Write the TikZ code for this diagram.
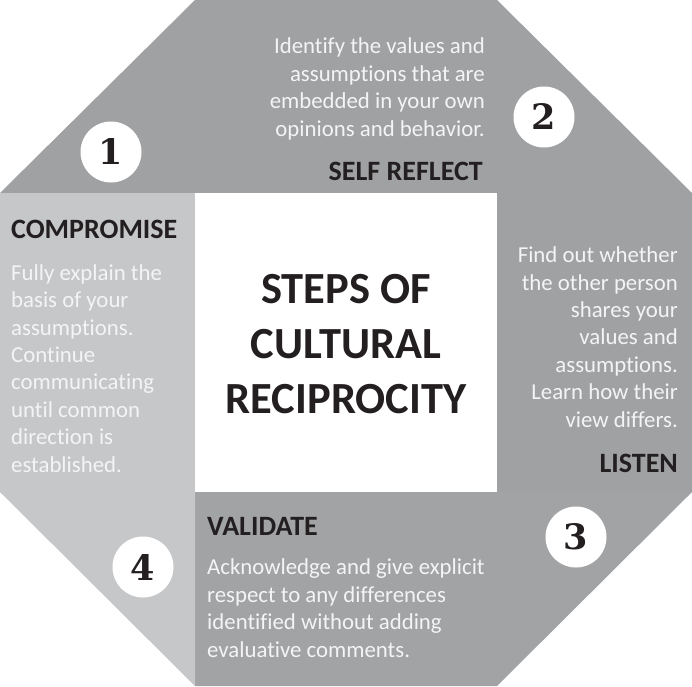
\documentclass[tikz,border=0pt]{standalone}
\usepackage{fontspec}
\setmainfont{Carlito}[Ligatures=NoCommon]
\newfontfamily\numfont{DejaVu Serif}
\definecolor{gtop}{HTML}{A0A1A3}
\definecolor{gright}{HTML}{A0A1A3}
\definecolor{gbottom}{HTML}{A2A3A5}
\definecolor{gleft}{HTML}{C6C7C9}
\definecolor{txtdark}{HTML}{231F20}
\definecolor{txtlight}{HTML}{F4F4F4}
\tikzset{
  body/.style={inner sep=0pt, text=txtlight, font=\fontsize{22.8}{27.4}\selectfont},
  head/.style={inner sep=0pt, text=txtdark, font=\fontsize{28}{30}\selectfont\bfseries},
  numcirc/.style={circle, fill=white, minimum size=61pt, inner sep=0pt, text=txtdark, font=\fontsize{35}{35}\selectfont\numfont\bfseries},
  title/.style={inner sep=0pt, text=txtdark, align=center, font=\fontsize{44.5}{55}\selectfont\bfseries}
}
\begin{document}
\begin{tikzpicture}[x=1pt,y=-1pt]
\useasboundingbox (0,0) rectangle (692,686);
% regions
\fill[gtop] (0,193) -- (195,0) -- (497,0) -- (692,193) -- cycle;
\fill[gright] (497,193) -- (692,193) -- (692,492) -- (497,492) -- cycle;
\fill[gbottom] (195,492) -- (692,492) -- (497,686) -- (195,686) -- cycle;
\fill[gleft] (0,193) -- (195,193) -- (195,686) -- (0,492) -- cycle;
\fill[white] (195,193) rectangle (497,492);
% circles
\node[numcirc] (n1) at (111,152) {1};
\node[numcirc] (n2) at (544,117) {2};
\node[numcirc] (n3) at (576,537) {3};
\node[numcirc] (n4) at (143,567) {4};
% title (anchor base = baseline of last line)
\node[title, anchor=base] (title) at (346,413) {STEPS OF\\CULTURAL\\RECIPROCITY};
% top
\node[body, align=right, anchor=base east] (topbody) at (485,136) {Identify the values and\\assumptions that are\\embedded in your own\\opinions and behavior.};
\node[head, anchor=base east] (tophead) at (483,180) {SELF REFLECT};
% left
\node[head, anchor=base west] (lefthead) at (11,238) {COMPROMISE};
\node[body, align=left, anchor=base west] (leftbody) at (11,472) {Fully explain the\\basis of your\\assumptions.\\Continue\\communicating\\until common\\direction is\\established.};
% right
\node[body, align=right, anchor=base east] (rightbody) at (678,427) {Find out whether\\the other person\\shares your\\values and\\assumptions.\\Learn how their\\view differs.};
\node[head, anchor=base east] (righthead) at (678,472) {LISTEN};
% bottom
\node[head, anchor=base west] (bottomhead) at (207,535) {VALIDATE};
\node[body, align=left, anchor=base west] (bottombody) at (207,657) {Acknowledge and give explicit\\respect to any differences\\identified without adding\\evaluative comments.};
\end{tikzpicture}
\end{document}
